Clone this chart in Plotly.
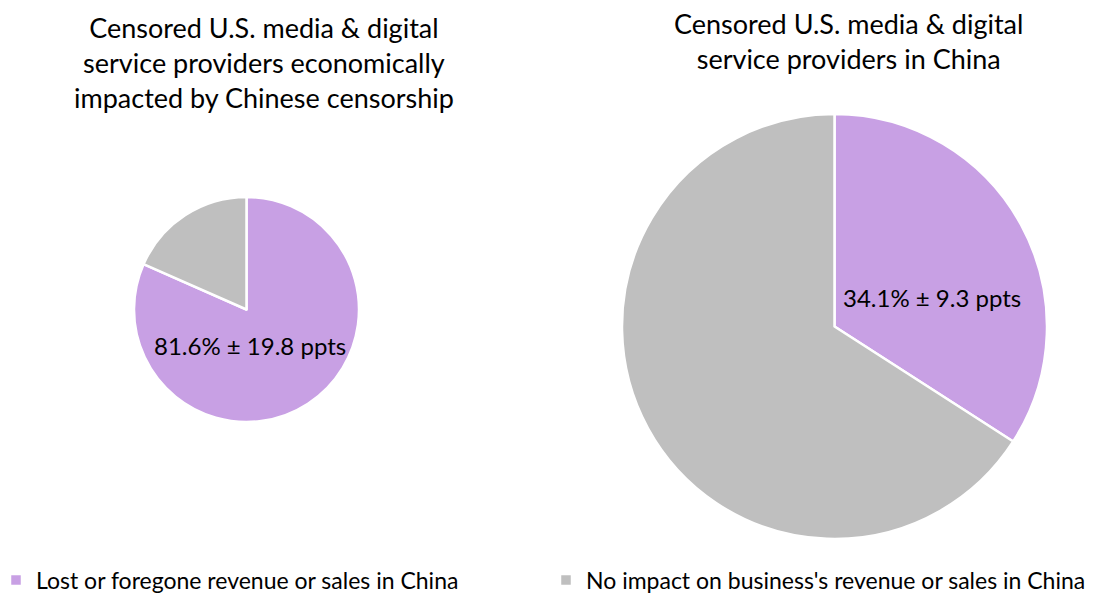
import plotly.graph_objects as go

categories = ["Lost or foregone revenue or sales in China",
              "No impact on business's revenue or sales in China"]
impacted_values = [81.6, 18.4]
china_values = [34.1, 65.9]
impacted_label = "81.6% ± 19.8 ppts"
china_label = "34.1% ± 9.3 ppts"
titles = ["Censored U.S. media & digital<br>service providers economically<br>impacted by Chinese censorship",
          "Censored U.S. media & digital<br>service providers in China"]
colors = ["#C8A0E4", "#BFBFBF"]

W, H = 1120, 594
FONT = "Lato"


def px(x):
    return x / W


def py(y):
    return 1 - y / H


fig = go.Figure()
fig.add_trace(go.Pie(
    labels=categories, values=impacted_values, sort=False, direction="clockwise",
    rotation=0, marker=dict(colors=colors, line=dict(color="white", width=2.5)),
    textinfo="none", hoverinfo="label+percent",
    domain=dict(x=[px(134), px(359)], y=[py(422), py(197)]),
))
fig.add_trace(go.Pie(
    labels=categories, values=china_values, sort=False, direction="clockwise",
    rotation=0, marker=dict(colors=colors, line=dict(color="white", width=2.5)),
    textinfo="none", hoverinfo="label+percent", showlegend=False,
    domain=dict(x=[px(622), px(1047)], y=[py(540), py(113)]),
))

ann = [
    dict(text=titles[0], x=px(264), y=py(9), yanchor="top", font=dict(size=27)),
    dict(text=titles[1], x=px(848), y=py(5), yanchor="top", font=dict(size=27)),
    dict(text=impacted_label, x=px(250), y=py(345), yanchor="middle", font=dict(size=24)),
    dict(text=china_label, x=px(932), y=py(297), yanchor="middle", font=dict(size=24)),
]
for a in ann:
    a.update(xref="paper", yref="paper", xanchor="center", showarrow=False)
    a["font"].update(family=FONT, color="#000000")

fig.update_layout(
    width=W, height=H,
    margin=dict(l=0, r=0, t=0, b=0, autoexpand=False),
    paper_bgcolor="white", plot_bgcolor="white",
    annotations=ann,
    showlegend=True,
    legend=dict(orientation="h", x=px(546), y=py(580), xanchor="center", yanchor="middle",
                entrywidth=505, entrywidthmode="pixels", itemwidth=30,
                font=dict(family=FONT, size=23, color="#000000"),
                traceorder="normal", bgcolor="rgba(0,0,0,0)"),
)

fig.write_html("out.html", config={"displayModeBar": False},
               post_script="document.body.style.margin='0';")
